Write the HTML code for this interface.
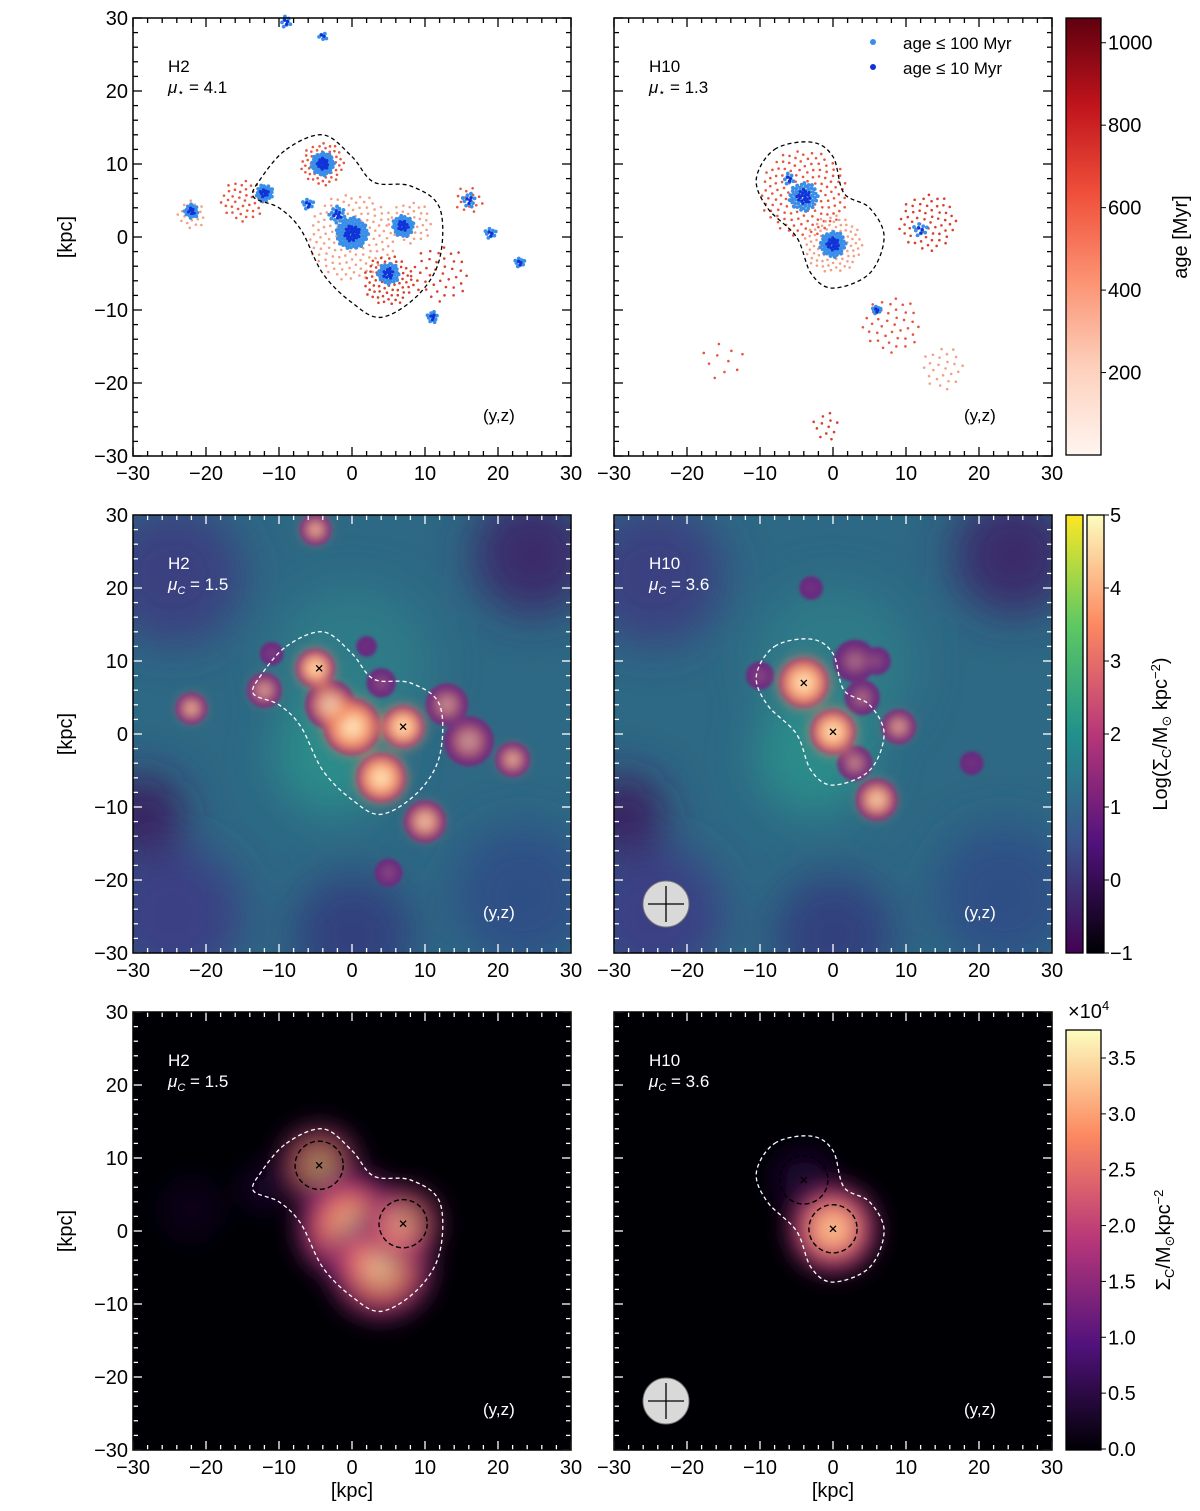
<!DOCTYPE html>
<html><head><meta charset="utf-8"><style>
html,body{margin:0;padding:0;background:#fff}
svg{display:block;font-family:"Liberation Sans","DejaVu Sans",sans-serif}
</style></head><body>
<svg id="fig" width="1200" height="1511" viewBox="0 0 1200 1511" xmlns="http://www.w3.org/2000/svg">
<defs>
<linearGradient id="gReds" x1="0" y1="1" x2="0" y2="0"><stop offset="0" stop-color="#fff5f0"/><stop offset="0.2" stop-color="#fdd0bc"/><stop offset="0.4" stop-color="#fc9272"/><stop offset="0.6" stop-color="#ef4f3a"/><stop offset="0.8" stop-color="#c0141c"/><stop offset="1" stop-color="#5f000f"/></linearGradient>
<linearGradient id="gVir" x1="0" y1="1" x2="0" y2="0"><stop offset="0" stop-color="#440154"/><stop offset="0.25" stop-color="#3b528b"/><stop offset="0.5" stop-color="#21918c"/><stop offset="0.75" stop-color="#5ec962"/><stop offset="1" stop-color="#fde725"/></linearGradient>
<linearGradient id="gMag" x1="0" y1="1" x2="0" y2="0"><stop offset="0" stop-color="#000004"/><stop offset="0.25" stop-color="#51127c"/><stop offset="0.5" stop-color="#b73779"/><stop offset="0.75" stop-color="#fc8961"/><stop offset="1" stop-color="#fcfdbf"/></linearGradient>
<radialGradient id="hot"><stop offset="0" stop-color="#fffbe0"/><stop offset="0.35" stop-color="#fdc08a"/><stop offset="0.7" stop-color="#f07a5c"/><stop offset="1" stop-color="#f07a5c" stop-opacity="0"/></radialGradient>
<radialGradient id="glow"><stop offset="0" stop-color="#fcfdbf"/><stop offset="0.25" stop-color="#fdb47d"/><stop offset="0.5" stop-color="#e75263"/><stop offset="0.75" stop-color="#7a1f7c"/><stop offset="1" stop-color="#000004" stop-opacity="0"/></radialGradient>
<radialGradient id="glowDim"><stop offset="0" stop-color="#5b1a80"/><stop offset="0.6" stop-color="#2a0c50"/><stop offset="1" stop-color="#000004" stop-opacity="0"/></radialGradient>
<filter id="blur2"><feGaussianBlur stdDeviation="1.5"/></filter>
<filter id="blur6"><feGaussianBlur stdDeviation="6"/></filter>
<filter id="blur12" x="-50%" y="-50%" width="200%" height="200%"><feGaussianBlur stdDeviation="12"/></filter>
<filter id="blur20"><feGaussianBlur stdDeviation="22"/></filter>
<clipPath id="c1"><rect x="133" y="515" width="438" height="438"/></clipPath>
<clipPath id="c2"><rect x="614" y="515" width="438" height="438"/></clipPath>
<clipPath id="c3"><rect x="133" y="1012" width="438" height="438"/></clipPath>
<clipPath id="c4"><rect x="614" y="1012" width="438" height="438"/></clipPath>
</defs>
<g id="root"></g>
</svg>
<script>
// ---------- data ----------
const tickVals = [-30,-20,-10,0,10,20,30];
const panelX = [133, 614];
const rowY = [18, 515, 1012];
const labels = ["H2","H10"];
const muStar = ["4.1","1.3"];
const muC = ["1.5","3.6"];
// row1 star clusters [x,y,radius kpc,count]
const h2Blue = [[-4,10,1.6,60],[-12,6,1.2,30],[-22,3.5,1,20],[0,0.5,2.2,90],[7,1.5,1.5,45],[5,-5,1.5,40],[-6,4.5,0.8,10],[11,-11,0.8,12],[16,5,1,12],[19,0.5,0.8,10],[23,-3.5,0.7,10],[-4,27.5,0.6,6],[-9,29.5,0.8,8],[-2,3,1.2,20]];
const h2Red = [[-4,10,3,60],[0,0,6,140],[5,-6,3.5,70],[-15,5,3,40],[-22,3,2,20],[12,-5,4,40],[16,5,2,15],[8,2,3,40]];
const h10Blue = [[-4,5.5,2,60],[0,-1,1.8,60],[6,-10,0.6,10],[12,1,1,10],[-6,8,0.8,8]];
const h10Red = [[-4,6,6,140],[0,-1,4,90],[13,2,4,60],[8,-12,4,40],[15,-18,3,25],[-1,-26,2,12],[-15,-17,3,10]];
const ageTicks = [200,400,600,800,1000];
const logTicks = [-1,0,1,2,3,4,5];
const linTicks = [0,0.5,1,1.5,2,2.5,3,3.5];
// row2 blobs [x,y,r kpc,intensity]
const h2Blobs = [[-5,9,2.3,0.9],[-12,6,2,0.6],[-22,3.5,1.8,0.7],[0,1,3.5,0.9],[-3,4,3,0.7],[7,1,2.5,1],[4,-6,3,0.95],[10,-12,2.5,0.7],[16,-1,3,0.5],[22,-3.5,2,0.65],[-5,28,1.8,0.7],[5,-19,1.5,0.3],[13,4,2.5,0.5],[4,7,1.6,0.3],[-11,11,1.2,0.3],[2,12,1,0.2]];
const h10Blobs = [[-4,7,3,1],[0,0.3,2.7,1],[4,5,2,0.4],[6,-9,2.5,0.75],[9,1,2,0.6],[3,10,2.5,0.35],[6,10,1.5,0.3],[-10,8,1.5,0.3],[3,-4,2,0.5],[-3,20,1.2,0.2],[19,-4,1.2,0.2]];
// row3 blobs
const h2Smooth = [[-4.5,9,3,0.55],[0,0.5,4,0.85],[4,-5,3.8,0.75],[7,1,2.8,0.6],[-12,6,2.2,0.2],[-22,3,3,0.08]];
const h10Smooth = [[-4,7,2.8,0.3],[0,0.3,3.2,0.9]];
const h2Contour = [[-9,12],[-4,14],[0,11],[3,7.5],[8,7],[12,4],[12,-3],[9,-8],[4,-11],[0,-9],[-4,-5],[-7,1],[-10,4],[-13.5,5.5],[-12.5,8]];
const h10Contour = [[-8,12],[-3,13],[0,11],[1.5,6],[5,4],[7,0],[5,-5],[0,-7],[-3,-5],[-5,0],[-9,4],[-10.5,8]];
const peaks = [[[-4.5,9],[7,1]],[[-4,7],[0,0.3]]];

const NS="http://www.w3.org/2000/svg";
const root=document.getElementById('root');
const S=438/60;
function px(p,v){return panelX[p]+(v+30)*S;}
function py(r,v){return rowY[r]+(30-v)*S;}
function el(tag,attrs,parent){const e=document.createElementNS(NS,tag);for(const k in attrs)e.setAttribute(k,attrs[k]);(parent||root).appendChild(e);return e;}
function txt(x,y,s,size,attrs,parent){const t=el('text',Object.assign({x:x,y:y,'font-size':size,fill:'#000'},attrs||{}),parent);t.innerHTML=s;return t;}
function smooth(pts){let d='';const n=pts.length;for(let i=0;i<n;i++){const p0=pts[(i-1+n)%n],p1=pts[i],p2=pts[(i+1)%n],p3=pts[(i+2)%n];if(i===0)d+='M'+p1[0]+','+p1[1];d+=' C'+(p1[0]+(p2[0]-p0[0])/6)+','+(p1[1]+(p2[1]-p0[1])/6)+' '+(p2[0]-(p3[0]-p1[0])/6)+','+(p2[1]-(p3[1]-p1[1])/6)+' '+p2[0]+','+p2[1];}return d+'Z';}

function axes(r,p){
  const g=el('g',{});
  
  
  const x0=panelX[p],y0=rowY[r],tc=r===0?'#000':'#fff';
  for(let v=-30;v<=30;v+=2){const maj=v%10===0,L=maj?9:5,X=px(p,v),Y=py(r,v);
    el('line',{x1:X,y1:y0,x2:X,y2:y0+L,stroke:tc,'stroke-width':1.3},g);
    el('line',{x1:X,y1:y0+438,x2:X,y2:y0+438-L,stroke:tc,'stroke-width':1.3},g);
    el('line',{x1:x0,y1:Y,x2:x0+L,y2:Y,stroke:tc,'stroke-width':1.3},g);
    el('line',{x1:x0+438,y1:Y,x2:x0+438-L,y2:Y,stroke:tc,'stroke-width':1.3},g);}
  el('rect',{x:x0,y:y0,width:438,height:438,fill:'none',stroke:'#000','stroke-width':1.5},g);
  tickVals.forEach(v=>{txt(px(p,v),y0+438+24,(v<0?'\u2212':'')+Math.abs(v),20,{'text-anchor':'middle'},g);
    if(p===0)txt(x0-5,py(r,v)+7,(v<0?'\u2212':'')+Math.abs(v),20,{'text-anchor':'end'},g);});
  if(p===0){const t=txt(72,y0+219,'[kpc]',20,{'text-anchor':'middle',transform:'rotate(-90 72 '+(y0+219)+')'},g);}
  if(r===2){const t=txt(x0+219,1497,'[kpc]',20,{'text-anchor':'middle'},g);}
  const c=r===0?'#000':'#fff';
  const h=txt(x0+35,y0+54,labels[p],17,{fill:c},g);
  const m=txt(x0+35,y0+75,r===0?'<tspan font-style="italic">μ</tspan><tspan font-size="11" dy="3">⋆</tspan><tspan dy="-3"> = '+muStar[p]+'</tspan>':'<tspan font-style="italic">μ</tspan><tspan font-size="11" dy="4" font-style="italic">C</tspan><tspan dy="-4"> = '+muC[p]+'</tspan>',17,{fill:c},g);
  
  const yz=txt(x0+350,y0+403,'(y,z)',17,{fill:c},g);
}
function contour(r,p,pts,color){const d=smooth(pts.map(q=>[px(p,q[0]),py(r,q[1])]));const c=el('path',{d:d,fill:'none',stroke:color,'stroke-width':1.3,'stroke-dasharray':'4,3'});}
function cross(r,p,q,color){const X=px(p,q[0]),Y=py(r,q[1]);const g=el('g',{stroke:color,'stroke-width':1.3});el('line',{x1:X-3,y1:Y-3,x2:X+3,y2:Y+3},g);el('line',{x1:X-3,y1:Y+3,x2:X+3,y2:Y-3},g);}
function cluster(r,p,c,fill,size,g){const ga=2.39996;for(let i=0;i<c[3];i++){const rr=c[2]*Math.sqrt((i+0.5)/c[3]),a=i*ga;el('circle',{cx:px(p,c[0]+rr*Math.cos(a)),cy:py(r,c[1]+rr*Math.sin(a)),r:size,fill:fill},g);}}

// ---------- row 1 ----------
[[h2Red,h2Blue],[h10Red,h10Blue]].forEach((d,p)=>{
  const g=el('g',{});
  d[0].forEach((c,i)=>cluster(0,p,c,['#e8553e','#f4a085','#d8402e'][i%3],1.3,g));
  d[1].forEach(c=>cluster(0,p,c,'#3a8ee8',1.9,g));
  d[1].forEach(c=>cluster(0,p,[c[0],c[1],c[2]*0.5,Math.round(c[3]/3)],'#1033d8',1.6,g));
  contour(0,p,p===0?h2Contour:h10Contour,'#000');
  axes(0,p);
});
{const g=el('g',{});
el('circle',{cx:873,cy:42,r:3,fill:'#3a8ee8'},g);el('circle',{cx:873,cy:67,r:3,fill:'#1033d8'},g);
const a=txt(903,49,'age ≤ 100 Myr',17,{},g);
const b=txt(903,74,'age ≤ 10 Myr',17,{},g);}

// ---------- row 2 ----------
[h2Blobs,h10Blobs].forEach((blobs,p)=>{
  const g=el('g',{'clip-path':'url(#c'+(p+1)+')'});
  const x0=panelX[p],y0=rowY[1];
  el('rect',{x:x0,y:y0,width:438,height:438,fill:'#2d6884'},g);
  const bg=el('g',{filter:'url(#blur20)'},g);
  [[x0+40,y0+60,70,'#3a3f80'],[x0+400,y0+40,60,'#3a2a6a'],[x0+40,y0+400,70,'#3b3f84'],[x0+220,y0+420,60,'#33407e'],[x0+390,y0+380,70,'#2f4f86'],[x0+10,y0+300,40,'#3a1e5e'],[x0+220,y0+150,80,'#2e7a88'],[x0+200,y0+240,60,'#2a8c8a']].forEach(b=>el('circle',{cx:b[0],cy:b[1],r:b[2],fill:b[3]},bg));
  const pg=el('g',{filter:'url(#blur2)'},g);
  blobs.forEach(b=>el('circle',{cx:px(p,b[0]),cy:py(1,b[1]),r:b[2]*S+3,fill:'#642680'},pg));
  const hg=el('g',{filter:'url(#blur6)'},g);
  blobs.forEach(b=>{el('circle',{cx:px(p,b[0]),cy:py(1,b[1]),r:b[2]*S*(0.6+0.7*b[3]),fill:'url(#hot)','fill-opacity':Math.min(1,b[3]*1.2)},hg);});
  contour(1,p,p===0?h2Contour:h10Contour,'#fff');
  peaks[p].forEach(q=>cross(1,p,q,'#000'));
});
// ---------- row 3 ----------
[h2Smooth,h10Smooth].forEach((blobs,p)=>{
  const g=el('g',{'clip-path':'url(#c'+(p+3)+')'});
  el('rect',{x:panelX[p],y:rowY[2],width:438,height:438,fill:'#000004'},g);
  const bg=el('g',{filter:'url(#blur12)'},g);
  blobs.forEach(b=>{const R=b[2]*S*2.2;el('circle',{cx:px(p,b[0]),cy:py(2,b[1]),r:R,fill:b[3]<0.4?'url(#glowDim)':'url(#glow)','fill-opacity':Math.min(1,b[3]+0.1)},bg);});
  contour(2,p,p===0?h2Contour:h10Contour,'#fff');
  peaks[p].forEach(q=>{const c=el('circle',{cx:px(p,q[0]),cy:py(2,q[1]),r:3.3*S,fill:'none',stroke:'#000','stroke-width':1.4,'stroke-dasharray':'5,3'});cross(2,p,q,'#000');});
});
for(let r=1;r<3;r++)axes(r,0),axes(r,1);
[1,2].forEach(r=>{const cx=666,cy=rowY[r]+389;const g=el('g',{});
el('circle',{cx:cx,cy:cy,r:23,fill:'#d9d9d9',stroke:'#777','stroke-width':1},g);el('line',{x1:cx-18,y1:cy,x2:cx+18,y2:cy,stroke:'#000','stroke-width':1.3},g);el('line',{x1:cx,y1:cy-18,x2:cx,y2:cy+18,stroke:'#000','stroke-width':1.3},g);});

// ---------- colorbars ----------
function cbar(x,y,w,h,grad,name){const r=el('rect',{x:x,y:y,width:w,height:h,fill:'url(#'+grad+')',stroke:'#000','stroke-width':1.3});}
cbar(1066,18,35,437,'gReds','age-colorbar');
ageTicks.forEach(v=>{const Y=455-(v/1060)*437;el('line',{x1:1101,y1:Y,x2:1106,y2:Y,stroke:'#000'});txt(1108,Y+7,v,20);});
{const t=txt(1187,237,'age [Myr]',20,{'text-anchor':'middle',transform:'rotate(-90 1187 237)'});}
cbar(1066,515,17,438,'gVir','log-colorbar-viridis');
cbar(1087,515,17,438,'gMag','log-colorbar-magma');
logTicks.forEach(v=>{const Y=953-(v+1)/6*438;el('line',{x1:1104,y1:Y,x2:1109,y2:Y,stroke:'#000'});txt(1110,Y+7,(v<0?'\u2212':'')+Math.abs(v),20);});
{const t=txt(1167,734,'Log(Σ<tspan font-size="13" dy="4">C</tspan><tspan dy="-4">/M</tspan><tspan font-size="13" dy="4">⊙</tspan><tspan dy="-4"> kpc</tspan><tspan font-size="13" dy="-7">−2</tspan><tspan dy="7">)</tspan>',20,{'text-anchor':'middle',transform:'rotate(-90 1167 734)'});}
cbar(1066,1030,35,420,'gMag','density-colorbar');
linTicks.forEach(v=>{const Y=1449-v/3.5*391;el('line',{x1:1101,y1:Y,x2:1106,y2:Y,stroke:'#000'});txt(1108,Y+7,v.toFixed(1),20);});
txt(1068,1018,'×10<tspan font-size="13" dy="-8">4</tspan>',20);
{const t=txt(1170,1240,'Σ<tspan font-size="13" dy="4">C</tspan><tspan dy="-4">/M</tspan><tspan font-size="13" dy="4">⊙</tspan><tspan dy="-4">kpc</tspan><tspan font-size="13" dy="-7">−2</tspan>',20,{'text-anchor':'middle',transform:'rotate(-90 1170 1240)'});}
</script>
</body></html>
